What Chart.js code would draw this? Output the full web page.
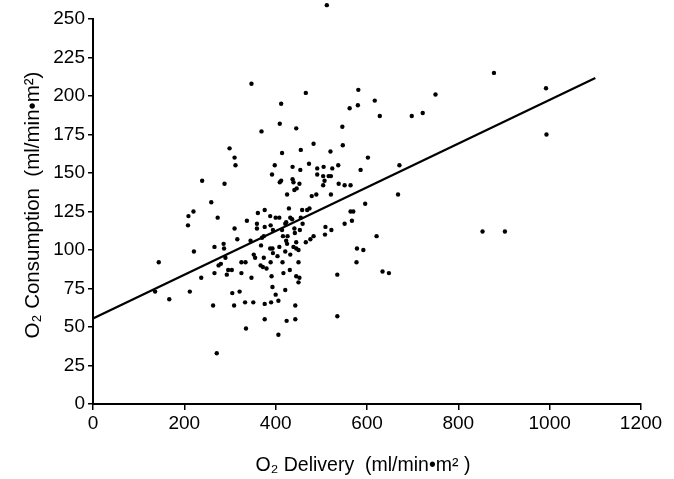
<!DOCTYPE html>
<html>
<head>
<meta charset="utf-8">
<script src="https://cdn.jsdelivr.net/npm/chart.js@4/dist/chart.umd.min.js"></script>
<style>
html,body{margin:0;padding:0;background:#fff;}
canvas{display:block;}
</style>
</head>
<body>
<canvas id="c" width="674" height="479"></canvas>
<script>
// O2 Delivery (x) values of each patient point
const deliveryValues = [347,412,409,369,512,466,581,750,617,562,580,628,698,722,445,546,878,992,993,
299,310,312,414,398,392,412,409,239,288,425,259,220,209,273,208,337,361,376,388,400,408,429,359,359,376,389,310,374,370,394,414,421,316,345,286,287,266,368,388,393,408,425,221,290,352,355,374,394,404,421,144,275,280,325,334,367,372,389,415,
237,266,293,296,304,325,347,380,391,417,431,136,167,212,305,321,393,400,421,263,309,333,351,376,390,406,376,424,335,406,271,
547,483,455,520,602,473,437,454,491,505,524,537,586,671,491,504,516,521,437,439,452,507,538,551,564,446,441,504,479,489,521,668,458,469,474,596,564,570,432,436,455,423,459,567,551,509,522,441,453,416,426,442,508,483,476,466,621,445,423,439,445,450,578,592,432,450,577,
445,452,450,535,634,648,443,443,535,853,902];
// O2 Consumption (y) values, same order
const consumptionValues = [208,195,182,177,259,202,204,201,197,192,194,187,187,189,179,180,215,205,175,
166,160,155,163,155,149,145,144,145,143,136,131,125,122,121,116,119,124,126,122,121,121,127,117,114,115,116,114,109,108,113,113,117,107,106,104,101,102,103,101,101,102,104,99,95,97,95,95,98,96,99,92,90,91,92,92,90,89,92,92,
82,85,84,87,87,85,82,88,83,85,87,73,68,73,72,73,76,71,74,64,64,66,66,65,66,67,55,54,49,45,33,
168,169,165,164,160,156,154,152,153,154,153,155,152,155,149,148,148,148,146,144,143,145,143,142,142,140,139,142,135,136,136,136,126,126,127,130,125,125,121,120,121,118,117,119,117,115,113,114,113,109,109,111,110,109,107,105,109,105,106,102,101,100,101,100,97,92,92,
83,82,79,84,86,85,64,55,57,112,112];
// Regression line end points
const fitX = [0, 1100];
const fitY = [55.5, 211.7];
// Axis ticks
const xTicks = [0,200,400,600,800,1000,1200];
const yTicks = [0,25,50,75,100,125,150,175,200,225,250];

const scatterPts = deliveryValues.map((x,i)=>({x:x, y:consumptionValues[i]}));
const linePts = fitX.map((x,i)=>({x:x, y:fitY[i]}));

const FONT = '"Liberation Sans", Arial, Helvetica, sans-serif';

// Points above the axis maximum are still drawn at their scale position
const outlierPlugin = {
  id:'outliers',
  afterDatasetsDraw(chart){
    const meta = chart.getDatasetMeta(0);
    const ys = chart.scales.y;
    const ctx = chart.ctx;
    ctx.save();
    ctx.fillStyle = '#000';
    meta.data.forEach((el,i)=>{
      if (consumptionValues[i] > ys.max) {
        ctx.beginPath();
        ctx.arc(el.x, el.y, 2.2, 0, Math.PI*2);
        ctx.fill();
      }
    });
    ctx.restore();
  }
};

const titlesPlugin = {
  id:'titles',
  afterDraw(chart){
    const ctx = chart.ctx;
    const a = chart.chartArea;
    ctx.save();
    ctx.fillStyle = '#000';
    ctx.textAlign = 'center';
    ctx.textBaseline = 'middle';
    ctx.font = '19.5px ' + FONT;
    ctx.fillText('O\u2082 Delivery  (ml/min\u2022m\u00B2 )', (a.left + a.right)/2 - 4, 466);
    ctx.font = '20.5px ' + FONT;
    ctx.translate(33, 205);
    ctx.rotate(-Math.PI/2);
    ctx.fillText('O\u2082 Consumption  (ml/min\u2022m\u00B2)', 0, 0);
    ctx.restore();
  }
};

new Chart(document.getElementById('c'), {
  type:'scatter',
  data:{
    datasets:[
      {type:'scatter', data:scatterPts, backgroundColor:'#000', borderWidth:0, pointRadius:2.2},
      {type:'line', data:linePts, borderColor:'#000', borderWidth:2.2, pointRadius:0, fill:false, tension:0}
    ]
  },
  options:{
    responsive:false,
    animation:false,
    layout:{padding:{left:0, right:33, top:19, bottom:0}},
    plugins:{legend:{display:false}, tooltip:{enabled:false}},
    scales:{
      x:{
        type:'linear', min:0, max:1200,
        afterBuildTicks(s){ s.ticks = xTicks.map(v=>({value:v})); },
        ticks:{color:'#000', font:{size:19, family:FONT}, padding:2, maxRotation:0, callback:(v)=>String(v)},
        grid:{drawOnChartArea:false, drawTicks:true, tickLength:6, color:'#000', lineWidth:1.5},
        border:{display:true, color:'#000', width:2},
        afterFit(s){ s.height = 75; }
      },
      y:{
        type:'linear', min:0, max:250,
        afterBuildTicks(s){ s.ticks = yTicks.map(v=>({value:v})); },
        ticks:{color:'#000', font:{size:19, family:FONT}, padding:3, callback:(v)=>String(v)},
        grid:{drawOnChartArea:false, drawTicks:true, tickLength:5, color:'#000', lineWidth:1.5},
        border:{display:true, color:'#000', width:2},
        afterFit(s){ s.width = 93; }
      }
    }
  },
  plugins:[outlierPlugin, titlesPlugin]
});
</script>
</body>
</html>
